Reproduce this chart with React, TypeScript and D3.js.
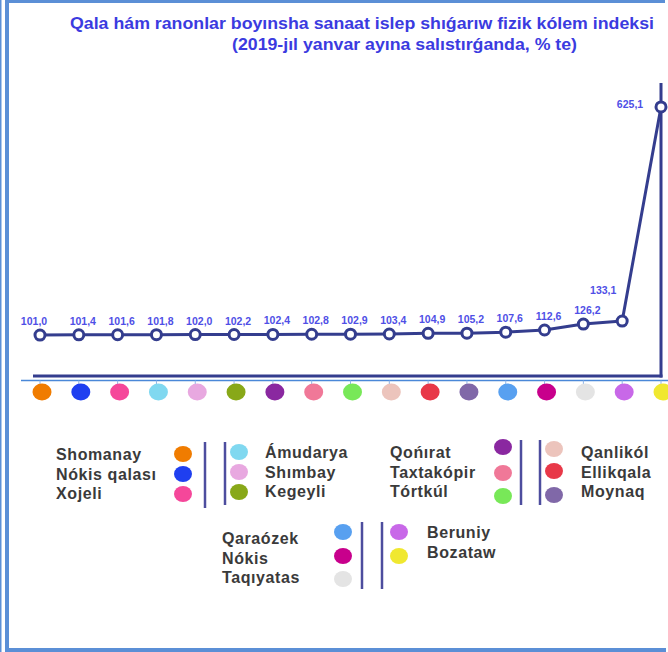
import React, { useEffect, useRef } from "react";
import * as d3 from "d3";

// districts, in chart order
const categories = [
  "Shomanay",
  "Nókis qalası",
  "Xojeli",
  "Ámudarya",
  "Shımbay",
  "Kegeyli",
  "Qońırat",
  "Taxtakópir",
  "Tórtkúl",
  "Qanlikól",
  "Ellikqala",
  "Moynaq",
  "Qaraózek",
  "Nókis",
  "Taqıyatas",
  "Beruniy",
  "Bozataw",
];

const values = [
  101.0, 101.4, 101.6, 101.8, 102.0, 102.2, 102.4, 102.8, 102.9, 103.4, 104.9,
  105.2, 107.6, 112.6, 126.2, 133.1, 625.1,
];

const colors = [
  "#f07c00",
  "#1f3ff0",
  "#f5479a",
  "#80d8f0",
  "#e8a8e0",
  "#88a818",
  "#8a28a0",
  "#f07898",
  "#78e858",
  "#ecc4bc",
  "#e83848",
  "#8068a8",
  "#58a0f0",
  "#c8008c",
  "#e4e4e4",
  "#c868e8",
  "#f0e830",
];

const titleLines = [
  "Qala hám ranonlar boyınsha sanaat islep shıǵarıw fizik kólem indeksi",
  "(2019-jıl yanvar ayına salıstırǵanda, % te)",
];

// legend groups: which categories go together
const legendGroups = [
  [0, 1, 2],
  [3, 4, 5],
  [6, 7, 8],
  [9, 10, 11],
  [12, 13, 14],
  [15, 16],
];

const W = 668;
const H = 652;
const NAVY = "#343d8e";
const FRAME = "#5b8fd6";
const LABEL = "#4f4fe6";

const fmt = (v: number) => v.toFixed(1).replace(".", ",");

// layout of each legend group (text left/right of dot)
const groupLayout = [
  { textX: 56, dotX: 183, textY: 460, dotY: [454, 474, 494] },
  { textX: 265, dotX: 239, textY: 458, dotY: [452, 472, 492] },
  { textX: 390, dotX: 503, textY: 458, dotY: [447, 473, 496] },
  { textX: 581, dotX: 554, textY: 458, dotY: [449, 471, 495] },
  { textX: 222, dotX: 343, textY: 544, dotY: [532, 556, 579] },
  { textX: 427, dotX: 399, textY: 538, dotY: [532, 556] },
];

const separators = [
  [205, 442, 508],
  [225, 442, 505],
  [521, 440, 505],
  [540, 440, 505],
  [362, 522, 589],
  [382, 522, 589],
];

const App = () => {
  const ref = useRef<SVGSVGElement>(null);

  useEffect(() => {
    const svg = d3.select(ref.current);
    svg.selectAll("*").remove();

    const x = d3.scalePoint<string>().domain(categories).range([40, 661]);
    const y = d3.scaleLinear().domain([0, 680]).range([379, 83]);
    const axisY = 376;

    // frame
    svg.append("rect").attr("x", 0).attr("y", 0).attr("width", 1.5).attr("height", H).attr("fill", FRAME);
    svg.append("rect").attr("x", 5).attr("y", 0).attr("width", 4).attr("height", H).attr("fill", FRAME);
    svg.append("rect").attr("x", 5).attr("y", 0).attr("width", 660).attr("height", 3).attr("fill", FRAME);
    svg.append("rect").attr("x", 5).attr("y", 648).attr("width", 661).attr("height", 4).attr("fill", FRAME);

    // title
    const tl = [
      { x: 70, y: 29, len: 584 },
      { x: 232, y: 50, len: 345 },
    ];
    titleLines.forEach((t, i) => {
      svg
        .append("text")
        .attr("x", tl[i].x)
        .attr("y", tl[i].y)
        .attr("textLength", tl[i].len)
        .attr("lengthAdjust", "spacingAndGlyphs")
        .attr("font-family", "Liberation Sans, Arial, sans-serif")
        .attr("font-weight", "bold")
        .attr("font-size", 17)
        .attr("fill", "#3b3be0")
        .text(t);
    });

    // axes
    svg
      .append("line")
      .attr("x1", 21)
      .attr("x2", W)
      .attr("y1", axisY + 4.5)
      .attr("y2", axisY + 4.5)
      .attr("stroke", "#4a88d8")
      .attr("stroke-width", 1.5);
    svg
      .append("g")
      .selectAll("line")
      .data(categories)
      .join("line")
      .attr("x1", (d) => x(d)!)
      .attr("x2", (d) => x(d)!)
      .attr("y1", axisY + 4.5)
      .attr("y2", axisY + 9)
      .attr("stroke", "#8fb4e6")
      .attr("stroke-width", 1);
    svg
      .append("line")
      .attr("x1", 33)
      .attr("x2", x(categories[categories.length - 1])! + 1.5)
      .attr("y1", axisY)
      .attr("y2", axisY)
      .attr("stroke", NAVY)
      .attr("stroke-width", 3);
    svg
      .append("line")
      .attr("x1", x(categories[categories.length - 1])!)
      .attr("x2", x(categories[categories.length - 1])!)
      .attr("y1", y(680))
      .attr("y2", axisY + 1.5)
      .attr("stroke", NAVY)
      .attr("stroke-width", 3);

    // category dots under the axis
    svg
      .append("g")
      .selectAll("ellipse")
      .data(categories)
      .join("ellipse")
      .attr("cx", (d) => x(d)! + 2)
      .attr("cy", axisY + 16)
      .attr("rx", 9.5)
      .attr("ry", 8.5)
      .attr("fill", (_, i) => colors[i]);

    // line + markers
    const line = d3
      .line<number>()
      .x((_, i) => x(categories[i])!)
      .y((d) => y(d));
    svg
      .append("path")
      .attr("d", line(values))
      .attr("fill", "none")
      .attr("stroke", NAVY)
      .attr("stroke-width", 3)
      .attr("stroke-linejoin", "round");
    svg
      .append("g")
      .selectAll("circle")
      .data(values)
      .join("circle")
      .attr("cx", (_, i) => x(categories[i])!)
      .attr("cy", (d) => y(d))
      .attr("r", 5)
      .attr("fill", "#fff")
      .attr("stroke", NAVY)
      .attr("stroke-width", 3);

    // value labels
    const last = values.length - 1;
    svg
      .append("g")
      .selectAll("text")
      .data(values)
      .join("text")
      .attr("x", (_, i) => {
        const px = x(categories[i])!;
        if (i === last) return px - 31;
        if (i === last - 1) return px - 19;
        if (i === 0) return px - 6;
        return px + 4;
      })
      .attr("y", (d, i) => {
        if (i === last) return y(d) + 1;
        if (i === last - 1) return y(d) - 27;
        return y(d) - 10;
      })
      .attr("text-anchor", "middle")
      .attr("font-family", "Liberation Sans, Arial, sans-serif")
      .attr("font-weight", "bold")
      .attr("font-size", 10.5)
      .attr("fill", LABEL)
      .text((d) => fmt(d));

    // legend separators
    svg
      .append("g")
      .selectAll("line")
      .data(separators)
      .join("line")
      .attr("x1", (d) => d[0])
      .attr("x2", (d) => d[0])
      .attr("y1", (d) => d[1])
      .attr("y2", (d) => d[2])
      .attr("stroke", "#4d4d9e")
      .attr("stroke-width", 2.5);

    // legend entries
    legendGroups.forEach((grp, gi) => {
      const lay = groupLayout[gi];
      const g = svg.append("g");
      grp.forEach((ci, row) => {
        g.append("ellipse")
          .attr("cx", lay.dotX)
          .attr("cy", lay.dotY[row])
          .attr("rx", 9)
          .attr("ry", 8)
          .attr("fill", colors[ci]);
        g.append("text")
          .attr("x", lay.textX)
          .attr("y", lay.textY + row * 19.5)
          .attr("font-family", "Liberation Sans, Arial, sans-serif")
          .attr("font-weight", "bold")
          .attr("font-size", 16)
          .attr("letter-spacing", 0.6)
          .attr("fill", "#3a3a3a")
          .text(categories[ci]);
      });
    });
  }, []);

  return (
    <div style={{ position: "absolute", left: 0, top: 0, width: W, height: H, background: "#fff" }}>
      <svg ref={ref} width={W} height={H} />
    </div>
  );
};

export default App;
